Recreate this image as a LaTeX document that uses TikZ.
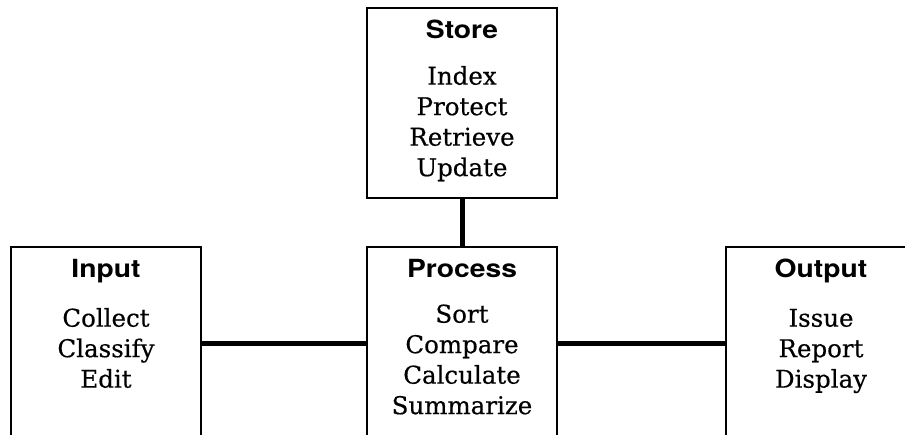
\documentclass[tikz,border=0pt]{standalone}
\usepackage{fontspec}
\newfontfamily\bodyfont[FakeBold=0.4]{DejaVu Serif}
\newfontfamily\headfont[FakeStretch=1.13]{TeX Gyre Heros}
\begin{document}
\begin{tikzpicture}[x=1pt,y=-1pt,
  box/.style={draw, line width=1.1pt, rectangle, minimum width=190pt, inner sep=0pt},
  head/.style={font=\headfont\bfseries\fontsize{25}{28}\selectfont, anchor=base, inner sep=0pt},
  body/.style={font=\bodyfont\fontsize{24.5}{30.5}\selectfont, align=center, anchor=north, inner sep=0pt},
  conn/.style={line width=5pt}]
\useasboundingbox (0,0) rectangle (905,434);
\clip (0,0) rectangle (905,434);
\fill[white] (0,0) rectangle (905,434);
% boxes
\node[box, minimum height=190pt] (store) at (462,103) {};
\node[box, minimum height=192pt] (in)   at (106,343) {};
\node[box, minimum height=192pt] (proc) at (462,343) {};
\node[box, minimum height=192pt] (out)  at (821,343) {};
% headings
\node[head] (storeh) at ([yshift=-31pt]store.north) {Store};
\node[head] (inh)    at ([yshift=-31pt]in.north)    {Input};
\node[head] (proch)  at ([yshift=-31pt]proc.north)  {Process};
\node[head] (outh)   at ([yshift=-31pt]out.north)   {Output};
% bodies
\node[body] (storeb) at ([yshift=-25pt]storeh.base) {\rule{0pt}{21pt}Index\\Protect\\Retrieve\\Update};
\node[body] (inb)    at ([yshift=-28pt]inh.base)    {\rule{0pt}{21pt}Collect\\Classify\\Edit};
\node[body] (procb)  at ([yshift=-24pt]proch.base)  {\rule{0pt}{21pt}Sort\\Compare\\Calculate\\Summarize};
\node[body] (outb)   at ([yshift=-28pt]outh.base)   {\rule{0pt}{21pt}Issue\\Report\\Display};
% connectors
\draw[conn] (store) -- (proc);
\draw[conn] (in) -- (proc);
\draw[conn] (proc) -- (out);
\end{tikzpicture}
\end{document}
